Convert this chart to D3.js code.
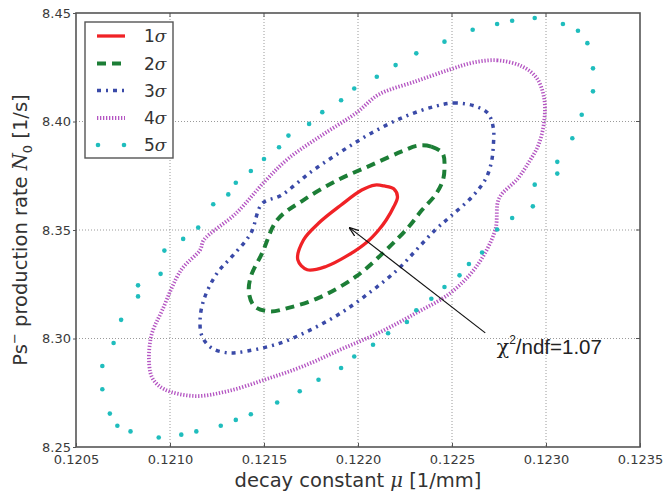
<!DOCTYPE html>
<html><head><meta charset="utf-8">
<script src="https://cdn.jsdelivr.net/npm/d3@7"></script>
<style>body{margin:0;background:#fff;} svg{display:block}</style>
</head><body>
<svg id="c" width="666" height="493"></svg>
<script>
// ---- data ----
const xTicks = [0.1205, 0.1210, 0.1215, 0.1220, 0.1225, 0.1230, 0.1235];
const xTickLabels = ["0.1205", "0.1210", "0.1215", "0.1220", "0.1225", "0.1230", "0.1235"];
const yTicks = [8.25, 8.30, 8.35, 8.40, 8.45];
const yTickLabels = ["8.25", "8.30", "8.35", "8.40", "8.45"];
const seriesNames = ["1", "2", "3", "4", "5"]; // followed by σ

// 1σ contour
const mu1 = [0.12209, 0.12214, 0.12219, 0.12221, 0.12219, 0.12215, 0.12211, 0.12205, 0.12195, 0.12183, 0.12173, 0.12168, 0.12171, 0.12179, 0.12191, 0.12202];
const n1  = [8.3707, 8.3703, 8.3690, 8.3653, 8.3607, 8.3546, 8.3500, 8.3446, 8.3385, 8.3332, 8.3317, 8.3362, 8.3454, 8.3531, 8.3615, 8.3684];
// 2σ contour
const mu2 = [0.12232, 0.12239, 0.12245, 0.12246, 0.12245, 0.12241, 0.12234, 0.12227, 0.12215, 0.12199, 0.12179, 0.12163, 0.12153, 0.12145, 0.12142, 0.12143, 0.12149, 0.12157, 0.12171, 0.12189, 0.12207, 0.12223];
const n2  = [8.3889, 8.3884, 8.3853, 8.3783, 8.3725, 8.3660, 8.3592, 8.3515, 8.3408, 8.3286, 8.3187, 8.3141, 8.3125, 8.3148, 8.3209, 8.3286, 8.3393, 8.3546, 8.3638, 8.3729, 8.3799, 8.3861];
// 3σ contour
const mu3 = [0.12241, 0.12251, 0.12261, 0.12269, 0.12272, 0.12272, 0.12271, 0.12268, 0.12261, 0.12249, 0.12241, 0.12231, 0.12221, 0.12207, 0.12191, 0.12175, 0.12159, 0.12141, 0.12131, 0.12122, 0.12117, 0.12116, 0.12118, 0.12125, 0.12133, 0.12143, 0.12149, 0.12159, 0.12175, 0.12191, 0.12207, 0.12225];
const n3  = [8.4070, 8.4085, 8.4074, 8.4039, 8.3969, 8.3892, 8.3814, 8.3737, 8.3656, 8.3561, 8.3500, 8.3408, 8.3317, 8.3217, 8.3118, 8.3041, 8.2980, 8.2942, 8.2934, 8.2957, 8.3011, 8.3087, 8.3179, 8.3301, 8.3378, 8.3485, 8.3622, 8.3659, 8.3768, 8.3861, 8.3946, 8.4023];
// 4σ contour
const mu4 = [0.12261, 0.12274, 0.12287, 0.12295, 0.12299, 0.12299, 0.12296, 0.12291, 0.12285, 0.12275, 0.12273, 0.12263, 0.12249, 0.12231, 0.12211, 0.12191, 0.12171, 0.12151, 0.12131, 0.12113, 0.12097, 0.12091, 0.12089, 0.12090, 0.12096, 0.12106, 0.12116, 0.12118, 0.12135, 0.12151, 0.12163, 0.12181, 0.12199, 0.12211, 0.12231, 0.12249];
const n4  = [8.4271, 8.4282, 8.4255, 8.4201, 8.4108, 8.4000, 8.3892, 8.3814, 8.3737, 8.3645, 8.3500, 8.3332, 8.3209, 8.3118, 8.3026, 8.2950, 8.2873, 8.2812, 8.2758, 8.2735, 8.2766, 8.2812, 8.2873, 8.3011, 8.3133, 8.3317, 8.3408, 8.3454, 8.3576, 8.3729, 8.3830, 8.3938, 8.4039, 8.4124, 8.4186, 8.4240];
// 5σ contour (sampled dots)
const mu5 = [0.12294, 0.12282, 0.12274, 0.12261, 0.12246, 0.12231, 0.12220, 0.12210, 0.12198, 0.12191, 0.12181, 0.12174, 0.12163, 0.12158, 0.12150, 0.12143, 0.12135, 0.12131,
             0.12123, 0.12115, 0.12107, 0.12097, 0.12095, 0.12083, 0.12083, 0.12074, 0.12070, 0.12064, 0.12064, 0.12068, 0.12072, 0.12079, 0.12094, 0.12106, 0.12114, 0.12127, 0.12135, 0.12143, 0.12157, 0.12169, 0.12179, 0.12191, 0.12198, 0.12208, 0.12216, 0.12226, 0.12231, 0.12239, 0.12246, 0.12254, 0.12259, 0.12266, 0.12274, 0.12282, 0.12293,
             0.12294, 0.12306, 0.12306, 0.12314, 0.12319, 0.12325, 0.12325, 0.12322, 0.12317, 0.12309];
const n5  = [8.4477, 8.4464, 8.4449, 8.4423, 8.4368, 8.4314, 8.4260, 8.4206, 8.4152, 8.4098, 8.4043, 8.3989, 8.3935, 8.3881, 8.3827, 8.3772, 8.3718, 8.3664,
             8.3619, 8.3511, 8.3459, 8.3405, 8.3298, 8.3245, 8.3194, 8.3086, 8.2979, 8.2873, 8.2766, 8.2654, 8.2598, 8.2572, 8.2544, 8.2557, 8.2572, 8.2598, 8.2625, 8.2651, 8.2705, 8.2757, 8.2810, 8.2864, 8.2917, 8.2971, 8.3024, 8.3076, 8.3130, 8.3183, 8.3237, 8.3291, 8.3343, 8.3396, 8.3502, 8.3555, 8.3609,
             8.3709, 8.3760, 8.3814, 8.3923, 8.4031, 8.4139, 8.4245, 8.4361, 8.4418, 8.4449];

// annotation
const annotText = "/ndf=1.07";
const annotHead = [0.121954, 8.3511];
const annotTail = [0.122677, 8.3026];
const annotPos  = [0.122738, 8.2955];

// ---- drawing ----
const x = d3.scaleLinear().domain([0.1205, 0.1235]).range([76, 640]);
const y = d3.scaleLinear().domain([8.25, 8.45]).range([447, 13]);
const svg = d3.select("#c");
const fontSans = "DejaVu Sans, sans-serif";

// grid
const g = svg.append("g");
g.selectAll("line.vg").data(xTicks.slice(1, -1)).join("line")
  .attr("x1", d => x(d)).attr("x2", d => x(d)).attr("y1", y(8.45)).attr("y2", y(8.25))
  .attr("stroke", "#9a9a9a").attr("stroke-width", 1).attr("stroke-dasharray", "1,2");
g.selectAll("line.hg").data(yTicks.slice(1, -1)).join("line")
  .attr("y1", d => y(d)).attr("y2", d => y(d)).attr("x1", x(0.1205)).attr("x2", x(0.1235))
  .attr("stroke", "#9a9a9a").attr("stroke-width", 1).attr("stroke-dasharray", "1,2");

const colors = ["#f02226", "#1c7e36", "#3a4aa8", "#b455c2", "#1fbdbd"];
const styles = [
  {w: 3.3, dash: null},
  {w: 4, dash: "9,6"},
  {w: 3.5, dash: "4,5,2,5"},
  {w: 3.8, dash: "1.3,1.7"},
];
const contours = [[mu1, n1], [mu2, n2], [mu3, n3], [mu4, n4]];
const line = d3.line().x(d => x(d[0])).y(d => y(d[1])).curve(d3.curveCatmullRomClosed.alpha(0.5));
const plot = svg.append("g");
contours.forEach(([m, n], i) => {
  const pts = m.map((v, k) => [v, n[k]]);
  plot.append("path").attr("d", line(pts)).attr("fill", "none")
    .attr("stroke", colors[i]).attr("stroke-width", styles[i].w)
    .attr("stroke-dasharray", styles[i].dash)
    .attr("stroke-linejoin", "round");
});
plot.selectAll("circle.c5").data(mu5.map((v, k) => [v, n5[k]])).join("circle")
  .attr("cx", d => x(d[0])).attr("cy", d => y(d[1])).attr("r", 2.3).attr("fill", colors[4]);

// frame
svg.append("rect").attr("x", x(0.1205)).attr("y", y(8.45))
  .attr("width", x(0.1235) - x(0.1205)).attr("height", y(8.25) - y(8.45))
  .attr("fill", "none").attr("stroke", "#555").attr("stroke-width", 1.6);

// axes
const xAxis = svg.append("g").attr("transform", `translate(0,${y(8.25)})`)
  .call(d3.axisBottom(x).tickValues(xTicks).tickFormat((d, i) => xTickLabels[i]).tickSizeInner(-4).tickSizeOuter(0).tickPadding(8));
const yAxis = svg.append("g").attr("transform", `translate(${x(0.1205)},0)`)
  .call(d3.axisLeft(y).tickValues(yTicks).tickFormat((d, i) => yTickLabels[i]).tickSizeInner(3).tickSizeOuter(0).tickPadding(2));
[xAxis, yAxis].forEach(a => {
  a.select(".domain").remove();
  a.selectAll(".tick line").attr("stroke", "#555");
  a.selectAll("text").attr("font-family", fontSans).attr("font-size", 13).attr("fill", "#3a3a3a");
});
// top/right inner ticks
svg.append("g").selectAll("line").data(xTicks.slice(1, -1)).join("line")
  .attr("x1", d => x(d)).attr("x2", d => x(d)).attr("y1", y(8.45)).attr("y2", y(8.45) + 4).attr("stroke", "#555");
svg.append("g").selectAll("line").data(yTicks.slice(1, -1)).join("line")
  .attr("y1", d => y(d)).attr("y2", d => y(d)).attr("x1", x(0.1235)).attr("x2", x(0.1235) - 4).attr("stroke", "#555");

// axis titles
const xt = svg.append("text").attr("x", (x(0.1205) + x(0.1235)) / 2).attr("y", 487)
  .attr("text-anchor", "middle").attr("font-family", fontSans).attr("font-size", 19.5).attr("fill", "#333");
xt.append("tspan").text("decay constant ");
xt.append("tspan").attr("font-family", "DejaVu Serif, serif").attr("font-style", "italic").text("μ");
xt.append("tspan").text(" [1/mm]");

const yt = svg.append("text").attr("transform", `translate(27,${(y(8.25) + y(8.45)) / 2}) rotate(-90)`)
  .attr("text-anchor", "middle").attr("font-family", fontSans).attr("font-size", 19.5).attr("fill", "#333");
yt.append("tspan").text("Ps");
yt.append("tspan").attr("dy", -8).attr("font-size", 13).text("−");
yt.append("tspan").attr("dy", 8).text("  production rate ");
yt.append("tspan").attr("font-family", "DejaVu Serif, serif").attr("font-style", "italic").text("N");
yt.append("tspan").attr("dy", 5).attr("font-size", 13).text("0");
yt.append("tspan").attr("dy", -5).text("  [1/s]");

// legend
const leg = svg.append("g");
leg.append("rect").attr("x", 85).attr("y", 22).attr("width", 88).attr("height", 136)
  .attr("fill", "#fff").attr("stroke", "#555").attr("stroke-width", 1.4);
const legY = [36, 63.5, 90.5, 118, 145];
seriesNames.forEach((s, i) => {
  if (i < 4) {
    leg.append("line").attr("x1", 97).attr("x2", 125).attr("y1", legY[i]).attr("y2", legY[i])
      .attr("stroke", colors[i]).attr("stroke-width", styles[i].w).attr("stroke-dasharray", styles[i].dash);
  } else {
    [98, 124].forEach(cx => leg.append("circle").attr("cx", cx).attr("cy", legY[i]).attr("r", 2.3).attr("fill", colors[4]));
  }
  const t = leg.append("text").attr("x", 144).attr("y", legY[i] + 6)
    .attr("font-family", fontSans).attr("font-size", 17).attr("fill", "#333");
  t.append("tspan").text(s);
  t.append("tspan").attr("font-family", "DejaVu Serif, serif").attr("font-style", "italic").text("σ");
});

// annotation
const defs = svg.append("defs");
defs.append("marker").attr("id", "ah").attr("viewBox", "0 0 10 10").attr("refX", 9.5).attr("refY", 5)
  .attr("markerWidth", 10).attr("markerHeight", 10).attr("markerUnits", "userSpaceOnUse").attr("orient", "auto")
  .append("path").attr("d", "M0,1.5 L10,5 L0,8.5").attr("fill", "none").attr("stroke", "#111").attr("stroke-width", 1.2);
svg.append("line").attr("x1", x(annotTail[0])).attr("y1", y(annotTail[1]))
  .attr("x2", x(annotHead[0])).attr("y2", y(annotHead[1]))
  .attr("stroke", "#111").attr("stroke-width", 1.2).attr("marker-end", "url(#ah)");
const at = svg.append("text").attr("x", x(annotPos[0])).attr("y", y(annotPos[1]) + 6)
  .attr("font-family", "Liberation Sans, Arial, sans-serif").attr("font-size", 20.5).attr("fill", "#222");
at.append("tspan").attr("font-family", "DejaVu Serif, serif").text("χ");
at.append("tspan").attr("dy", -10).attr("font-size", 12).text("2");
at.append("tspan").attr("dy", 10).text(annotText);
</script>
</body></html>
